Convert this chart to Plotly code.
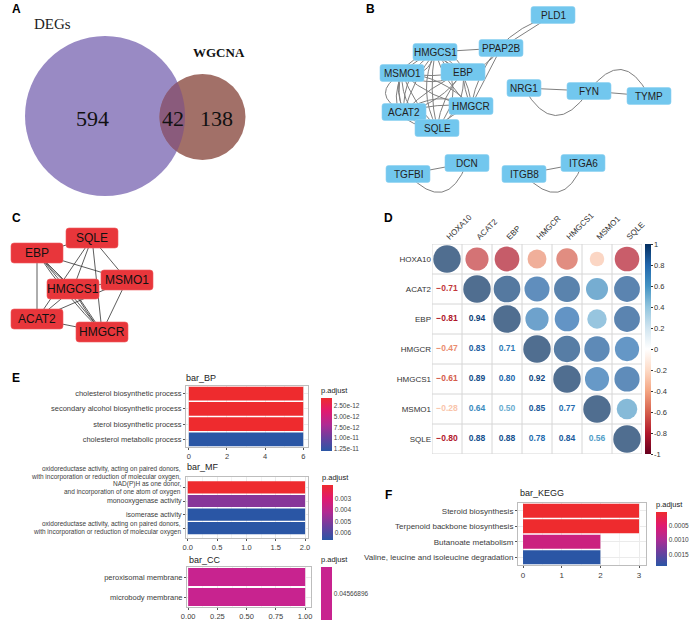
import numpy as np
import plotly.graph_objects as go
from plotly.colors import sample_colorscale

W, H = 692, 621
SANS = "Liberation Sans, Arial, sans-serif"
SERIF = "Liberation Serif, Times New Roman, serif"

# ====================== DATA ======================
# Panel A – Venn
venn_names = ["DEGs", "WGCNA"]
venn_counts = [594, 42, 138]          # DEGs only, shared, WGCNA only

# Panel B – PPI network (edges, with multiplicity)
b_nodes = ["PLD1", "PPAP2B", "HMGCS1", "MSMO1", "EBP", "HMGCR", "ACAT2", "SQLE",
           "NRG1", "FYN", "TYMP", "TGFBI", "DCN", "ITGB8", "ITGA6"]
b_edges = [
    ("PLD1", "PPAP2B"), ("PLD1", "HMGCR"), ("PPAP2B", "HMGCS1"), ("PPAP2B", "HMGCS1"), ("PPAP2B", "HMGCR"),
    ("HMGCS1", "MSMO1"), ("HMGCS1", "EBP"), ("HMGCS1", "HMGCR"), ("HMGCS1", "ACAT2"), ("HMGCS1", "SQLE"),
    ("MSMO1", "EBP"), ("MSMO1", "HMGCR"), ("MSMO1", "ACAT2"), ("MSMO1", "SQLE"),
    ("EBP", "HMGCR"), ("EBP", "ACAT2"), ("EBP", "SQLE"),
    ("HMGCR", "ACAT2"), ("HMGCR", "SQLE"), ("ACAT2", "SQLE"),
    ("HMGCS1", "ACAT2"), ("MSMO1", "SQLE"), ("HMGCS1", "SQLE"), ("EBP", "SQLE"), ("HMGCS1", "HMGCR"),
    ("MSMO1", "HMGCR"), ("EBP", "ACAT2"), ("HMGCS1", "EBP"), ("MSMO1", "ACAT2"), ("HMGCS1", "MSMO1"),
    ("HMGCS1", "SQLE"), ("EBP", "MSMO1"), ("ACAT2", "HMGCR"), ("MSMO1", "SQLE"), ("HMGCS1", "ACAT2"),
    ("NRG1", "FYN"), ("NRG1", "FYN"), ("FYN", "TYMP"), ("FYN", "TYMP"),
    ("TGFBI", "DCN"), ("TGFBI", "DCN"), ("ITGB8", "ITGA6"), ("ITGB8", "ITGA6"),
]

# Panel C – hub genes
hub_genes = ["SQLE", "EBP", "MSMO1", "HMGCS1", "ACAT2", "HMGCR"]

# Panel D – correlation (lower triangle)
corr_genes = ["HOXA10", "ACAT2", "EBP", "HMGCR", "HMGCS1", "MSMO1", "SQLE"]
corr_lower = [
    [],
    [-0.71],
    [-0.81, 0.94],
    [-0.47, 0.83, 0.71],
    [-0.61, 0.89, 0.80, 0.92],
    [-0.28, 0.64, 0.50, 0.85, 0.77],
    [-0.80, 0.88, 0.88, 0.78, 0.84, 0.56],
]
corr_ticks = [1, 0.8, 0.6, 0.4, 0.2, 0, -0.2, -0.4, -0.6, -0.8, -1]

# Panel E – GO enrichment
bp_terms = ["cholesterol biosynthetic process", "secondary alcohol biosynthetic process",
            "sterol biosynthetic process", "cholesterol metabolic process"]
bp_count = [6, 6, 6, 6]
bp_padj = [7.3e-13, 7.3e-13, 7.3e-13, 1.30e-11]
bp_range = [7.3e-13, 1.30e-11]
bp_ticks = [2.5e-12, 5.0e-12, 7.5e-12, 1.0e-11, 1.25e-11]

mf_terms = ["oxidoreductase activity, acting on paired donors,\nwith incorporation or reduction of molecular oxygen,\nNAD(P)H as one donor,\nand incorporation of one atom of oxygen",
            "monooxygenase activity", "isomerase activity",
            "oxidoreductase activity, acting on paired donors,\nwith incorporation or reduction of molecular oxygen"]
mf_count = [2, 2, 2, 2]
mf_padj = [0.0018, 0.0049, 0.0066, 0.0066]
mf_range = [0.0018, 0.0066]
mf_ticks = [0.003, 0.004, 0.005, 0.006]

cc_terms = ["peroxisomal membrane", "microbody membrane"]
cc_count = [1, 1]
cc_padj = [0.04566896, 0.04566896]

# Panel F – KEGG
kegg_terms = ["Steroid biosynthesis", "Terpenoid backbone biosynthesis",
              "Butanoate metabolism", "Valine, leucine and isoleucine degradation"]
kegg_count = [3, 3, 2, 2]
kegg_padj = [3e-5, 3e-5, 7e-4, 1.9e-3]
kegg_range = [3e-5, 1.9e-3]
kegg_ticks = [0.0005, 0.0010, 0.0015]

# ====================== LAYOUT HELPERS ======================
def px(x): return x / W
def py(y): return 1 - y / H

fig = go.Figure()
shapes, annotations = [], []

# canvas axis in pixel units (x right, y down)
fig.add_trace(go.Scatter(x=[0], y=[0], mode="markers", marker=dict(opacity=0),
                         hoverinfo="skip", xaxis="x", yaxis="y"))

def ann(x, y, text, size=10, color="#222", family=SANS, xanchor="center", yanchor="middle",
        xref="x", yref="y", bold=False, **kw):
    d = dict(x=x, y=y, text=("<b>%s</b>" % text) if bold else text, showarrow=False,
             xref=xref, yref=yref, xanchor=xanchor, yanchor=yanchor,
             font=dict(size=size, color=color, family=family))
    d.update(kw)
    annotations.append(d)

def rrect(cx, cy, w, h, r=2.5):
    x0, x1, y0, y1 = cx - w / 2, cx + w / 2, cy - h / 2, cy + h / 2
    return (f"M {x0+r},{y0} L {x1-r},{y0} Q {x1},{y0} {x1},{y0+r} L {x1},{y1-r} "
            f"Q {x1},{y1} {x1-r},{y1} L {x0+r},{y1} Q {x0},{y1} {x0},{y1-r} "
            f"L {x0},{y0+r} Q {x0},{y0} {x0+r},{y0} Z")

def qpath(p, q, c):
    (x0, y0), (x1, y1) = p, q
    dx, dy = x1 - x0, y1 - y0
    mx, my = (x0 + x1) / 2, (y0 + y1) / 2
    cx, cy = mx - c * dy, my + c * dx
    return f"M {x0},{y0} Q {cx},{cy} {x1},{y1}"

# panel letters
for L, (x, y) in {"A": (16, 9), "B": (370, 9), "C": (16, 218), "D": (388, 218),
                  "E": (16, 378), "F": (388, 495)}.items():
    ann(x, y, L, size=12, color="black", bold=True)

# ====================== PANEL A ======================
c1, r1 = (105, 116), 80
c2, r2 = (202.5, 117), 43
shapes.append(dict(type="circle", xref="x", yref="y", x0=c1[0]-r1, x1=c1[0]+r1, y0=c1[1]-r1, y1=c1[1]+r1,
                   fillcolor="#998ac4", line=dict(width=0), layer="above"))
shapes.append(dict(type="circle", xref="x", yref="y", x0=c2[0]-r2, x1=c2[0]+r2, y0=c2[1]-r2, y1=c2[1]+r2,
                   fillcolor="#a27068", line=dict(width=0), layer="above"))

def lens_path(c1, r1, c2, r2, n=50):
    (x1, y1), (x2, y2) = c1, c2
    d = np.hypot(x2 - x1, y2 - y1)
    a = (r1**2 - r2**2 + d**2) / (2 * d)
    th1 = np.arccos(a / r1)
    th2 = np.arccos((d - a) / r2)
    b12 = np.arctan2(y2 - y1, x2 - x1)
    b21 = b12 + np.pi
    t1 = np.linspace(b12 - th1, b12 + th1, n)
    t2 = np.linspace(b21 - th2, b21 + th2, n)
    p1 = np.c_[x1 + r1*np.cos(t1), y1 + r1*np.sin(t1)]
    p2 = np.c_[x2 + r2*np.cos(t2), y2 + r2*np.sin(t2)]
    if np.hypot(*(p1[-1] - p2[0])) > np.hypot(*(p1[-1] - p2[-1])):
        p2 = p2[::-1]
    pts = np.vstack([p1, p2])
    return "M " + " L ".join(f"{x:.2f},{y:.2f}" for x, y in pts) + " Z"

shapes.append(dict(type="path", xref="x", yref="y", path=lens_path(c1, r1, c2, r2),
                   fillcolor="#8a5b7c", line=dict(width=0), layer="above"))
ann(52, 24, venn_names[0], size=15, family=SERIF, color="#222")
ann(219, 52, venn_names[1], size=13, family=SERIF, color="#111", bold=True)
for (x, y), v in zip([(92, 118), (173, 118), (216, 118)], venn_counts):
    ann(x, y, str(v), size=22, family=SERIF, color="#111")

# ====================== PANEL B ======================
b_pos = {"PLD1": (553, 15), "PPAP2B": (501, 48), "HMGCS1": (435, 52), "MSMO1": (402, 73),
         "EBP": (463, 72), "HMGCR": (471, 106), "ACAT2": (404, 112), "SQLE": (437, 128),
         "NRG1": (524, 88), "FYN": (589, 91), "TYMP": (649, 96), "TGFBI": (408, 174),
         "DCN": (467, 163), "ITGB8": (524, 174), "ITGA6": (583, 163)}
b_w = {"NRG1": 34}
b_curv = [0, 0.3, 0, -0.6, 0,
          0.1, 0.1, 0.15, 0.1, 0.1,
          0.1, 0.15, 0.2, 0.1,
          0.1, 0.1, 0.15,
          0.1, 0.1, 0.2,
          0.6, 0.7, -0.45, -0.3, -0.3,
          -0.2, -0.2, -0.4, 0.9, -0.5,
          0.25, -0.3, -0.3, 0.35, 0.3,
          0, 0.8, 0, -0.8,
          0, 0.8, 0, 0.8]
for (a, b), c in zip(b_edges, b_curv):
    shapes.append(dict(type="path", xref="x", yref="y", path=qpath(b_pos[a], b_pos[b], c),
                       line=dict(color="#7f7f7f", width=1), layer="above"))
for nm in b_nodes:
    x, y = b_pos[nm]
    shapes.append(dict(type="path", xref="x", yref="y", path=rrect(x, y, b_w.get(nm, 44), 17),
                       fillcolor="#72c7ee", line=dict(color="#8fd2f2", width=0.6), layer="above"))
    ann(x, y, nm, size=10, color="#222")

# ====================== PANEL C ======================
c_pos = {"SQLE": (92, 238), "EBP": (37, 253), "MSMO1": (127, 280), "HMGCS1": (73, 289),
         "ACAT2": (37, 319), "HMGCR": (102, 332)}
for i in range(len(hub_genes)):
    for j in range(i + 1, len(hub_genes)):
        shapes.append(dict(type="path", xref="x", yref="y",
                           path=qpath(c_pos[hub_genes[i]], c_pos[hub_genes[j]], 0),
                           line=dict(color="#333", width=0.8), layer="above"))
for a, b in [("EBP", "HMGCS1"), ("EBP", "HMGCR"), ("HMGCS1", "HMGCR")]:
    shapes.append(dict(type="path", xref="x", yref="y", path=qpath(c_pos[a], c_pos[b], 0.05),
                       line=dict(color="#333", width=0.8), layer="above"))
for nm in hub_genes:
    x, y = c_pos[nm]
    shapes.append(dict(type="path", xref="x", yref="y", path=rrect(x, y, 52, 20, 3),
                       fillcolor="#e8363b", line=dict(color="#ee5a5e", width=0.6), layer="above"))
    ann(x, y, nm, size=12, color="#111")

# ====================== PANEL D ======================
n = len(corr_genes)
R = np.eye(n)
for i, row in enumerate(corr_lower):
    for j, v in enumerate(row):
        R[i, j] = R[j, i] = v
corr_cols = ["#67001F", "#B2182B", "#D6604D", "#F4A582", "#FDDBC7", "#FFFFFF",
             "#D1E5F0", "#92C5DE", "#4393C3", "#2166AC", "#053061"]
corr_cs = [[k / 10, c] for k, c in enumerate(corr_cols)]

ui, uj, ur = [], [], []
for i in range(n):
    for j in range(i, n):
        ui.append(i); uj.append(j); ur.append(R[i, j])
ur = np.array(ur)
fig.add_trace(go.Scatter(
    x=uj, y=ui, mode="markers", xaxis="x2", yaxis="y2", hoverinfo="skip",
    marker=dict(size=27.5 * np.sqrt(np.abs(ur)), color=ur, colorscale=corr_cs, cmin=-1, cmax=1,
                line=dict(width=0), showscale=True,
                colorbar=dict(x=px(645), xanchor="left", y=py(349), yanchor="middle",
                              len=210, lenmode="pixels", thickness=6, thicknessmode="pixels",
                              xpad=0, ypad=0, outlinewidth=0, ticks="outside", ticklen=2,
                              tickcolor="#333", tickvals=corr_ticks,
                              ticktext=[("%g" % t) for t in corr_ticks],
                              tickfont=dict(size=7.5, color="#333333", family=SANS)))))
li, lj, lr = [], [], []
for i in range(n):
    for j in range(i):
        li.append(i); lj.append(j); lr.append(R[i, j])
lcol = sample_colorscale(corr_cs, [(v + 1) / 2 for v in lr])
fig.add_trace(go.Scatter(
    x=lj, y=li, mode="text", xaxis="x2", yaxis="y2", hoverinfo="skip",
    text=[("%.2f" % v).replace("-", "\u2212") for v in lr],
    textfont=dict(size=8.5, color=lcol, family=SANS, weight="bold")))
for k in range(n + 1):
    shapes.append(dict(type="line", xref="x2", yref="y2", x0=k - 0.5, x1=k - 0.5, y0=-0.5, y1=n - 0.5,
                       line=dict(color="#d6d6d6", width=1), layer="below"))
    shapes.append(dict(type="line", xref="x2", yref="y2", y0=k - 0.5, y1=k - 0.5, x0=-0.5, x1=n - 0.5,
                       line=dict(color="#d6d6d6", width=1), layer="below"))

# ====================== PANELS E / F ======================
padj_cs = [[0, "#2a56a5"], [0.25, "#6a3f9e"], [0.5, "#b02a93"], [0.75, "#e01a70"], [1, "#ee2b2e"]]
CB_TITLE = 12  # vertical room the colourbar title takes inside its length

def bar_panel(terms, counts, padj, xa, ya, prange, ticks, tickfmt, cb_x, bar_top, bar_bot,
              cs=padj_cs, hide_multiline=False):
    ticktext = [("" if (hide_multiline and "\n" in t) else t) for t in terms]
    fig.add_trace(go.Bar(
        y=terms, x=counts, orientation="h", xaxis=xa, yaxis=ya, hoverinfo="skip",
        marker=dict(color=[-p for p in padj], colorscale=cs, cmin=-prange[1], cmax=-prange[0],
                    line=dict(width=0), showscale=True,
                    colorbar=dict(x=px(cb_x), xanchor="left", y=py(bar_top - CB_TITLE), yanchor="top",
                                  len=bar_bot - bar_top + CB_TITLE, lenmode="pixels",
                                  thickness=11, thicknessmode="pixels",
                                  xpad=0, ypad=0, outlinewidth=0, ticks="",
                                  tickvals=[-t for t in ticks], ticktext=[tickfmt(t) for t in ticks],
                                  tickfont=dict(size=6.5, color="#444444", family=SANS),
                                  title=dict(text="p.adjust", side="top",
                                             font=dict(size=7.5, color="#222222", family=SANS))))))
    return ticktext

axis_common = dict(showline=True, mirror=True, linecolor="#bdbdbd", linewidth=1,
                   showgrid=True, gridcolor="#ebebeb", gridwidth=0.8, zeroline=False,
                   ticks="outside", ticklen=2, tickcolor="#555555", fixedrange=True)

bp_tt = bar_panel(bp_terms, bp_count, bp_padj, "x3", "y3", bp_range, bp_ticks,
                  lambda t: "%.2e" % t, 321, 396, 451)
mf_tt = bar_panel(mf_terms, mf_count, mf_padj, "x4", "y4", mf_range, mf_ticks,
                  lambda t: "%.3f" % t, 322, 483, 540, hide_multiline=True)
cc_val = cc_padj[0]
cc_tt = bar_panel(cc_terms, cc_count, cc_padj, "x5", "y5", [cc_val - 1e-5, cc_val + 1e-5], [cc_val],
                  lambda t: "%.8f" % t, 321, 565, 620, cs=[[0, "#c8238f"], [1, "#c8238f"]])
kg_tt = bar_panel(kegg_terms, kegg_count, kegg_padj, "x6", "y6", kegg_range, kegg_ticks,
                  lambda t: "%.4f" % t, 656, 510, 566)

LBL = "#3c3c3c"
# multi-line MF labels as line-by-line annotations
for t in mf_terms:
    if "\n" in t:
        lines = t.split("\n")
        m = len(lines)
        for k, ln in enumerate(lines):
            annotations.append(dict(x=px(183), xref="paper", y=t, yref="y4", text=ln, showarrow=False,
                                    xanchor="right", yanchor="middle",
                                    yshift=-((k - (m - 1) / 2) * 7.6) + (7 if m > 2 else 0),
                                    font=dict(size=6.5, color=LBL, family=SANS)))

# panel titles
ann(184, 378, "bar_BP", size=9, color="#222", xanchor="left")
ann(185, 467, "bar_MF", size=9, color="#222", xanchor="left")
ann(187, 560, "bar_CC", size=9, color="#222", xanchor="left")
ann(518, 493, "bar_KEGG", size=9, color="#222", xanchor="left")

def ydom(top, bot): return [py(bot), py(top)]
def xdom(l, r): return [px(l), px(r)]

tf_e = dict(size=7.5, color=LBL, family=SANS)
tf_mf = dict(size=7.0, color=LBL, family=SANS)
tf_f = dict(size=8, color=LBL, family=SANS)
fig.update_layout(
    template="none", width=W, height=H, margin=dict(l=0, r=0, t=0, b=0, autoexpand=False),
    paper_bgcolor="white", plot_bgcolor="white", showlegend=False,
    font=dict(family=SANS, color="#333333"), bargap=0.1,
    xaxis=dict(domain=[0, 1], range=[0, W], visible=False, fixedrange=True),
    yaxis=dict(domain=[0, 1], range=[H, 0], visible=False, fixedrange=True),
    xaxis2=dict(domain=xdom(432, 642), anchor="y2", range=[-0.5, n - 0.5], side="top",
                tickvals=list(range(n)), ticktext=corr_genes, tickangle=-45, showgrid=False,
                zeroline=False, showline=False, ticks="", tickfont=dict(size=8, color="#333333"),
                fixedrange=True),
    yaxis2=dict(domain=ydom(244, 454), anchor="x2", range=[n - 0.5, -0.5],
                tickvals=list(range(n)), ticktext=corr_genes, showgrid=False, zeroline=False,
                showline=False, ticks="", tickfont=dict(size=8, color="#333333"), fixedrange=True),
    xaxis3=dict(domain=xdom(186, 308), anchor="y3", range=[-0.15, 6.25], tickvals=[0, 2, 4, 6],
                minor=dict(dtick=1, tick0=0, showgrid=True, gridcolor="#f3f3f3"),
                tickfont=tf_e, **axis_common),
    yaxis3=dict(domain=ydom(386, 447), anchor="x3", autorange="reversed", type="category",
                categoryorder="array", categoryarray=bp_terms, tickvals=bp_terms, ticktext=bp_tt,
                tickfont=tf_e, **axis_common),
    xaxis4=dict(domain=xdom(186, 308), anchor="y4", range=[-0.03, 2.05],
                tickvals=[0, 0.5, 1, 1.5, 2], ticktext=["0.0", "0.5", "1.0", "1.5", "2.0"],
                minor=dict(dtick=0.25, tick0=0, showgrid=True, gridcolor="#f3f3f3"),
                tickfont=tf_e, **axis_common),
    yaxis4=dict(domain=ydom(477, 538), anchor="x4", autorange="reversed", type="category",
                categoryorder="array", categoryarray=mf_terms, tickvals=mf_terms, ticktext=mf_tt,
                tickfont=tf_mf, **axis_common),
    xaxis5=dict(domain=xdom(187, 311), anchor="y5", range=[-0.01, 1.05],
                tickvals=[0, 0.25, 0.5, 0.75, 1], ticktext=["0.00", "0.25", "0.50", "0.75", "1.00"],
                minor=dict(dtick=0.125, tick0=0, showgrid=True, gridcolor="#f3f3f3"),
                tickfont=tf_e, **axis_common),
    yaxis5=dict(domain=ydom(567, 607), anchor="x5", autorange="reversed", type="category",
                categoryorder="array", categoryarray=cc_terms, tickvals=cc_terms, ticktext=cc_tt,
                tickfont=tf_e, **axis_common),
    xaxis6=dict(domain=xdom(518, 646), anchor="y6", range=[-0.13, 3.18], tickvals=[0, 1, 2, 3],
                minor=dict(dtick=0.5, tick0=0, showgrid=True, gridcolor="#f3f3f3"),
                tickfont=tf_f, **axis_common),
    yaxis6=dict(domain=ydom(503, 565), anchor="x6", autorange="reversed", type="category",
                categoryorder="array", categoryarray=kegg_terms, tickvals=kegg_terms, ticktext=kg_tt,
                tickfont=tf_f, **axis_common),
    shapes=shapes, annotations=annotations,
)

fig.write_html("out.html", config={"displayModeBar": False},
               post_script="document.body.style.margin='0';document.body.style.padding='0';")
